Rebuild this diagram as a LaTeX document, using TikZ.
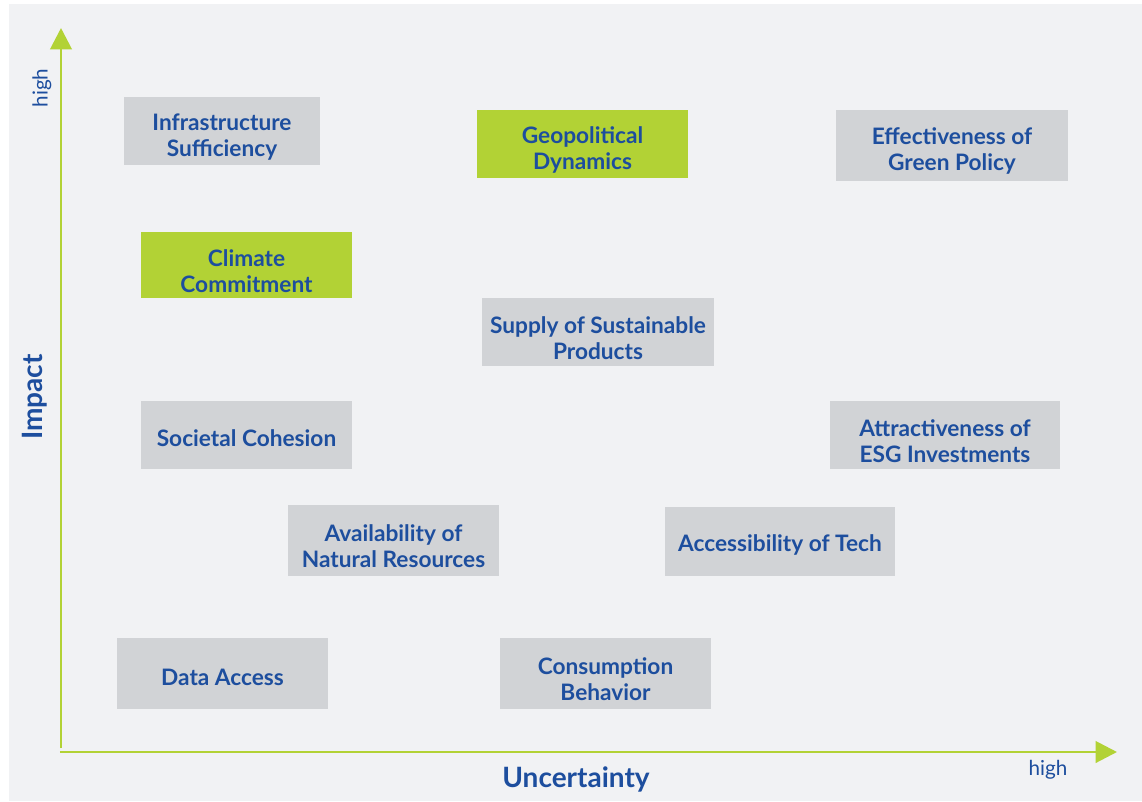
\documentclass[tikz,border=0pt]{standalone}
\usepackage{fontspec}
\setmainfont{Lato}
\usepackage{tikz}
\usetikzlibrary{arrows.meta}
\definecolor{matrixBg}{HTML}{F1F2F4}
\definecolor{matrixBox}{HTML}{D1D3D6}
\definecolor{matrixLime}{HTML}{B2D235}
\definecolor{matrixBlue}{HTML}{1D4E9E}
\tikzset{
  factor/.style={fill=matrixBox,minimum width=158pt,minimum height=51pt,align=center,
    inner sep=2pt,text=matrixBlue,font=\fontsize{17}{19.5}\selectfont\bfseries,
    execute at begin node={\rule{0pt}{#1}}},
  factor/.default=18pt,
  keyfactor/.style={factor=#1,fill=matrixLime},
  keyfactor/.default=18pt,
  axis/.style={-{Triangle[length=16pt,width=16pt]},line width=2.2pt,matrixLime},
  axislabel/.style={text=matrixBlue,font=\fontsize{15.5}{17}\selectfont},
  axistitle/.style={text=matrixBlue,font=\fontsize{21}{24}\selectfont\bfseries}
}

\begin{document}
\begin{tikzpicture}[x=0.75pt,y=0.75pt]
  \useasboundingbox (0,0) rectangle (1142,-801);
  \fill[white] (0,0) rectangle (1142,-801);
  \fill[matrixBg] (9,-4) rectangle (1142,-801);

  % axes
  \coordinate (origin) at (61,-752);
  \coordinate (impactEnd) at (61,-28);
  \coordinate (uncertEnd) at (1117,-752);
  \draw[axis] (61,-748) -- (impactEnd);
  \draw[axis] (59.9,-752) -- (uncertEnd);
  \node[axislabel,rotate=90] (impactHigh) at (42,-88) {high};
  \node[axislabel] (uncertHigh) at (1048,-770) {high};
  \node[axistitle,rotate=90] (impactLbl) at (35,-397) {Impact};
  \node[axistitle] (uncertLbl) at (576,-779) {Uncertainty};

  % factors (two-line boxes get a taller strut)
  \node[factor=41pt,minimum width=147pt] (infra) at (222,-131) {Infrastructure\\Sufficiency};
  \node[keyfactor=41pt] (geo) at (582.5,-144) {Geopolitical\\Dynamics};
  \node[factor=41pt,minimum width=174pt,minimum height=53pt] (green) at (952,-145.5) {Effectiveness of\\Green Policy};
  \node[keyfactor=41pt,minimum height=50pt] (climate) at (246.5,-265) {Climate\\Commitment};
  \node[factor=41pt,minimum width=174pt] (supply) at (598,-332) {Supply of Sustainable\\Products};
  \node[factor] (cohesion) at (246.5,-435) {Societal Cohesion};
  \node[factor=41pt,minimum width=173pt] (esg) at (945,-435) {Attractiveness of\\ESG Investments};
  \node[factor=41pt,minimum height=53pt] (resources) at (393.5,-540.5) {Availability of\\Natural Resources};
  \node[factor,minimum width=173pt,minimum height=52pt] (tech) at (780,-541.5) {Accessibility of Tech};
  \node[factor,minimum height=53pt] (data) at (222.5,-673.5) {Data Access};
  \node[factor=41pt,minimum height=53pt] (consumption) at (605.5,-673.5) {Consumption\\Behavior};
\end{tikzpicture}
\end{document}
